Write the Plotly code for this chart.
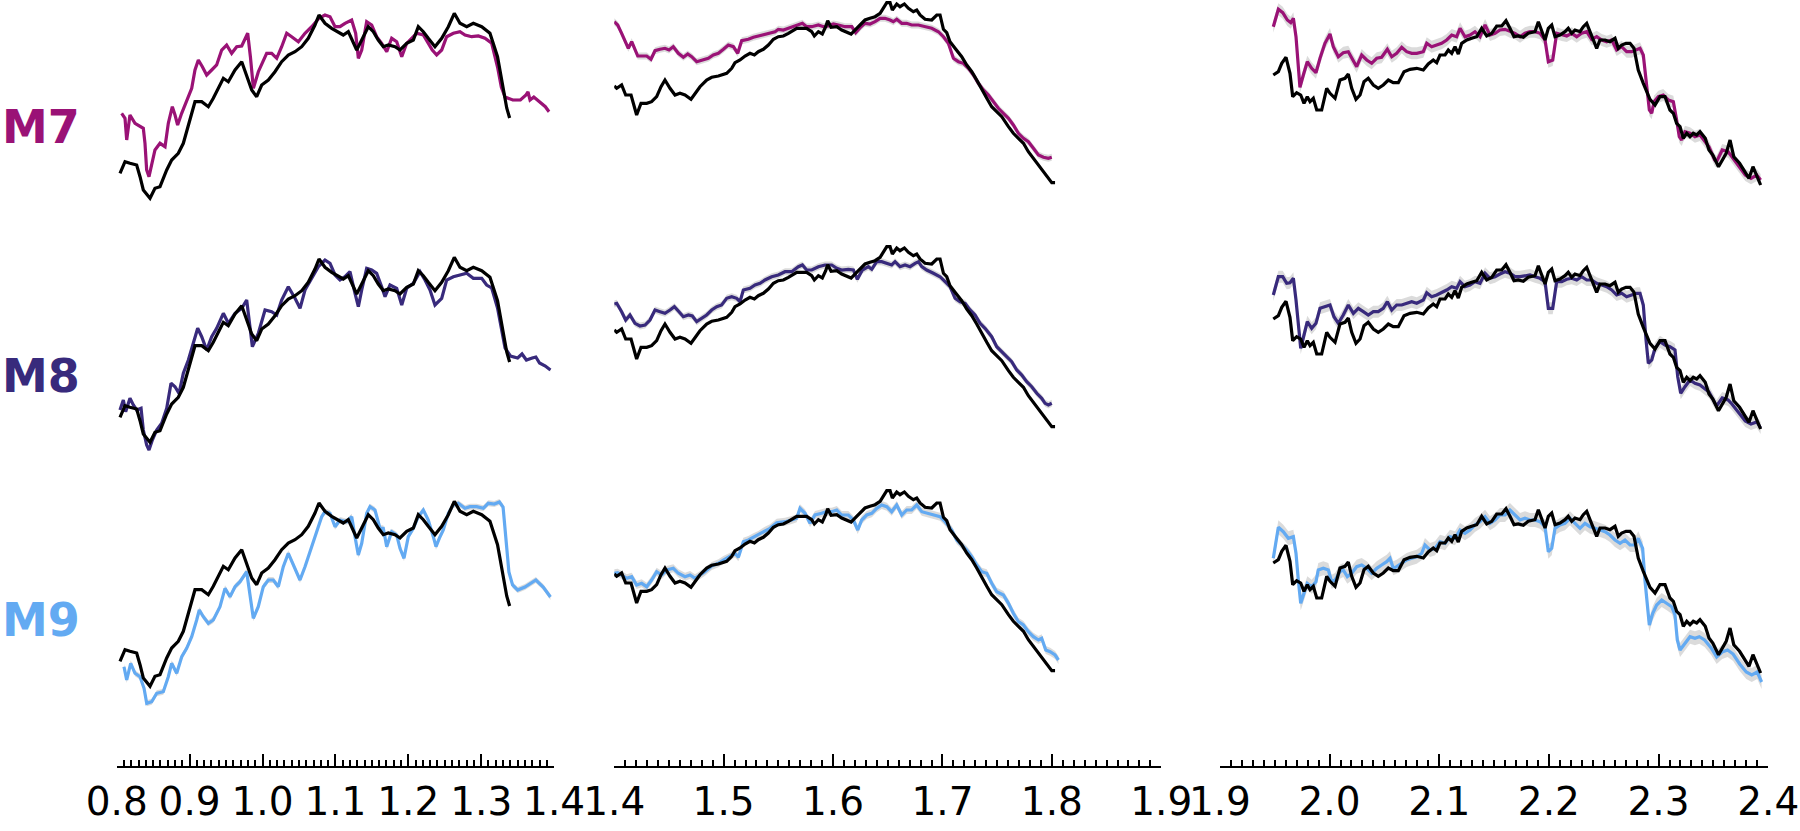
import plotly.graph_objects as go

# Observed spectrum (black) and three model fits per wavelength window.
# Flux values are in relative units, one row band per model.

# ---------------- window 1 : 0.8 - 1.4 um ----------------
obs1_wl = [0.8045, 0.8114, 0.8182, 0.8274, 0.832, 0.8365, 0.8457, 0.8525, 0.8594, 0.8686, 0.8754, 0.8845,
           0.8914, 0.9005, 0.9074, 0.9166, 0.9257, 0.9325, 0.9394, 0.9463, 0.9531, 0.9623, 0.9715, 0.9783,
           0.9852, 0.992, 0.9989, 1.008, 1.0171, 1.0263, 1.0354, 1.0446, 1.0538, 1.0628, 1.072, 1.0775,
           1.0857, 1.0949, 1.104, 1.1108, 1.1177, 1.1246, 1.1292, 1.1361, 1.1451, 1.152, 1.1588, 1.1657,
           1.1726, 1.1818, 1.1886, 1.1978, 1.2069, 1.2137, 1.2206, 1.2274, 1.2366, 1.2458, 1.2549, 1.2631,
           1.2709, 1.2801, 1.2892, 1.3007, 1.312, 1.3224, 1.3302, 1.335, 1.339]
obs1 = [70.7, 82.3, 80.7, 79, 67.3, 54, 45.7, 55.7, 57.3, 74, 84, 90.7,
        100.7, 124, 142.3, 142.3, 137.3, 145.7, 155.7, 165.7, 162.3, 174, 182.3, 169,
        154, 147.3, 159, 164, 172.3, 182.3, 189, 192.3, 197.3, 205.7, 219, 229,
        220.7, 215.7, 212.3, 209, 212.3, 200.7, 194, 204, 217.3, 212.3, 204, 197.3,
        199, 197.3, 194, 200.7, 204, 217.3, 212.3, 205.7, 197.3, 205.7, 217.3, 230.7,
        220.7, 217.3, 220.7, 217.3, 210.7, 187.3, 157, 136, 126]

m7_1_wl = [0.8068, 0.8114, 0.8137, 0.8182, 0.8251, 0.832, 0.8365, 0.8388, 0.8411, 0.8443, 0.8479, 0.8525,
           0.8594, 0.8663, 0.8708, 0.8763, 0.88, 0.8836, 0.8891, 0.896, 0.9029, 0.9074, 0.912, 0.9175,
           0.9234, 0.9303, 0.9371, 0.944, 0.9508, 0.9577, 0.9646, 0.9715, 0.976, 0.9797, 0.9834, 0.9875,
           0.9943, 1.0012, 1.0057, 1.0126, 1.0195, 1.0263, 1.0332, 1.04, 1.0492, 1.0583, 1.0675, 1.0775,
           1.0857, 1.0926, 1.0995, 1.1063, 1.1132, 1.1223, 1.1278, 1.1315, 1.1361, 1.1429, 1.1498, 1.1566,
           1.1635, 1.1704, 1.1772, 1.1841, 1.191, 1.1978, 1.2047, 1.2115, 1.2206, 1.2274, 1.2329, 1.2389,
           1.2458, 1.2526, 1.2618, 1.2709, 1.2778, 1.2869, 1.2961, 1.3052, 1.3144, 1.3224, 1.3276, 1.3327,
           1.3433, 1.3538, 1.3615, 1.3642, 1.367, 1.3722, 1.3801, 1.388, 1.393]
m7_1 = [130.7, 125.7, 104, 129, 120.7, 118, 115.7, 100.7, 74, 67.3, 80.7, 94,
        100.7, 97.3, 120.7, 137.3, 129, 119, 130.7, 144, 155.7, 174, 184, 177.3,
        169, 174, 179, 194, 199, 190.7, 197.3, 198, 205.7, 210.7, 187.3, 155.7,
        172.3, 184, 190.7, 190.7, 185.7, 197.3, 210.7, 207.3, 202.3, 210.7, 217.3, 225.7,
        229, 227.3, 217.3, 217.3, 220.7, 224, 210.7, 185.7, 194, 222.3, 219, 207.3,
        200.7, 192.3, 205.7, 202.3, 187.3, 200.7, 205.7, 210.7, 209, 200.7, 194, 189,
        194, 207.3, 210.7, 212.3, 209, 207.3, 208, 205.7, 200.7, 177, 157, 147,
        144, 144, 149, 152, 144, 147, 142.3, 137.3, 132.3]

m8_1_wl = [0.8045, 0.8091, 0.8123, 0.8182, 0.8228, 0.8274, 0.8334, 0.8365, 0.8411, 0.8443, 0.8489, 0.8548,
           0.8617, 0.8686, 0.8745, 0.88, 0.8855, 0.8914, 0.8983, 0.9051, 0.9111, 0.9166, 0.9234, 0.9303,
           0.9371, 0.9463, 0.9531, 0.9623, 0.9715, 0.9783, 0.9829, 0.9861, 0.9943, 1.0035, 1.0126, 1.0195,
           1.0263, 1.0354, 1.0446, 1.0515, 1.0583, 1.0675, 1.0766, 1.0857, 1.0926, 1.0995, 1.1063, 1.1132,
           1.12, 1.1269, 1.1315, 1.1361, 1.1429, 1.1498, 1.1566, 1.1635, 1.1681, 1.1749, 1.1841, 1.191,
           1.1978, 1.2069, 1.2161, 1.2229, 1.2298, 1.2366, 1.2458, 1.2526, 1.2618, 1.2709, 1.2801, 1.2892,
           1.3007, 1.3075, 1.3144, 1.3224, 1.3276, 1.3327, 1.34, 1.35, 1.356, 1.362, 1.37, 1.375,
           1.38, 1.388, 1.395]
m8_1 = [78, 88, 76.3, 89.7, 83, 78, 79.7, 58, 43, 38, 48, 58,
        64.7, 79.7, 104.7, 101.3, 94.7, 114.7, 128, 144.7, 159.7, 151.3, 138, 151.3,
        159.7, 174.7, 164.7, 174.7, 179.7, 188, 161.3, 141.3, 154.7, 178, 176.3, 173,
        188, 201.3, 189.7, 179.7, 198, 209.7, 221.3, 228, 224.7, 213, 208, 211.3,
        216.3, 194.7, 181.3, 198, 219.7, 218, 214.7, 201.3, 191.3, 203, 199.7, 183,
        199.7, 204.7, 216.3, 208, 198, 183, 189.7, 208, 211.3, 213, 214.7, 209.7,
        209.7, 203, 200, 180, 160, 140, 132, 130, 134, 128, 130, 131,
        125, 122, 118]

m9_1_wl = [0.81, 0.8137, 0.8192, 0.8251, 0.832, 0.8375, 0.8412, 0.848, 0.8549, 0.8639, 0.8708, 0.8754,
           0.8823, 0.8892, 0.896, 0.9029, 0.9097, 0.9133, 0.9188, 0.9257, 0.9325, 0.9417, 0.9486, 0.9554,
           0.9623, 0.9692, 0.9783, 0.9829, 0.9874, 0.9942, 1.0011, 1.008, 1.0148, 1.0217, 1.0285, 1.0354,
           1.0422, 1.0514, 1.0583, 1.0675, 1.0743, 1.0812, 1.0857, 1.0926, 1.0995, 1.1063, 1.1155, 1.1224,
           1.1269, 1.1314, 1.1361, 1.1429, 1.1475, 1.1543, 1.1612, 1.1657, 1.1704, 1.1772, 1.1841, 1.1886,
           1.1941, 1.2, 1.2069, 1.2137, 1.2206, 1.2274, 1.2343, 1.238, 1.2425, 1.248, 1.2549, 1.2617,
           1.2686, 1.2778, 1.2846, 1.2938, 1.3029, 1.3097, 1.318, 1.325, 1.33, 1.3335, 1.338, 1.343,
           1.35, 1.36, 1.37, 1.375, 1.385, 1.395]
m9_1 = [65.3, 52, 68.7, 58.7, 55.3, 43.7, 28.7, 30.3, 38.7, 40.3, 55.3, 68.7,
        58.7, 75.3, 83.7, 95.3, 112, 122, 115.3, 108.7, 112, 125.3, 143.7, 135.3,
        145.3, 150.3, 160.3, 138.7, 113.7, 125.3, 145.3, 152, 152, 145.3, 165.3, 178.7,
        167, 152, 165.3, 185.3, 198.7, 215.3, 220.3, 218.7, 205.3, 212, 210.3, 215.3,
        195.3, 177, 188.7, 218.7, 225.3, 222, 203.7, 203.7, 185.3, 200.3, 197, 183.7,
        173.7, 195.3, 203.7, 215.3, 222, 212, 195.3, 185.3, 193.7, 202, 218.7, 227,
        228.7, 223.7, 225.3, 225.3, 223.7, 228.7, 228, 230, 225, 195, 160, 147,
        142, 145, 150, 152, 145, 135]

# ---------------- window 2 : 1.4 - 1.9 um ----------------
obs2_wl = [1.4, 1.4023, 1.4068, 1.4105, 1.4154, 1.4205, 1.4245, 1.4297, 1.4342, 1.4388, 1.4428, 1.4464,
           1.451, 1.4556, 1.4601, 1.4647, 1.4702, 1.4739, 1.4784, 1.4845, 1.4891, 1.4952, 1.5028, 1.5074,
           1.5104, 1.515, 1.5196, 1.5241, 1.5281, 1.5317, 1.5363, 1.5409, 1.5455, 1.55, 1.5546, 1.5592,
           1.5637, 1.5668, 1.5714, 1.5759, 1.5805, 1.5829, 1.5866, 1.5902, 1.5933, 1.5951, 1.5982, 1.6034,
           1.6079, 1.6125, 1.6165, 1.6216, 1.6256, 1.6292, 1.6338, 1.6384, 1.643, 1.646, 1.6491, 1.6521,
           1.6542, 1.6582, 1.6612, 1.6652, 1.6689, 1.6734, 1.6765, 1.6795, 1.6841, 1.6902, 1.6948, 1.6978,
           1.7009, 1.7039, 1.7069, 1.7115, 1.7176, 1.7222, 1.7268, 1.7313, 1.7359, 1.7405, 1.745, 1.7496,
           1.7542, 1.7603, 1.7648, 1.7694, 1.774, 1.7785, 1.7831, 1.7877, 1.7923, 1.7968, 1.7999, 1.8029]
obs2 = [158, 155.7, 159, 149, 149, 129, 140.7, 140.7, 142.3, 147.3, 157.3, 164,
        155.7, 149, 150.7, 149, 144.7, 150.7, 157.3, 164, 166.7, 168, 170.7, 175.7,
        181.3, 184, 188, 190.7, 189, 192.3, 194.7, 199, 204.7, 207.3, 208, 210.7,
        213.3, 215.7, 215.7, 215.7, 212.3, 208, 212.3, 210, 217.3, 223.3, 216.7, 217.3,
        214, 212.3, 210, 215.7, 220.7, 224, 225.7, 227.3, 230.7, 235.7, 241.3, 241.3,
        234, 240, 237.3, 240, 235.7, 232.3, 234, 229, 224.7, 224, 229, 229,
        214.7, 211.3, 202.3, 195.7, 187.3, 179, 172.3, 164, 154, 145.7, 137.3, 132.3,
        127.3, 117.3, 110.7, 105.7, 100.7, 92.3, 85.7, 79, 72.3, 65.7, 61.3, 61.3]

m7_2_wl = [1.4, 1.4032, 1.4068, 1.4105, 1.4129, 1.416, 1.419, 1.4215, 1.4266, 1.4297, 1.4336, 1.4373,
           1.4419, 1.4464, 1.4501, 1.454, 1.4586, 1.4632, 1.4672, 1.4708, 1.4754, 1.48, 1.486, 1.4906,
           1.4952, 1.4998, 1.5043, 1.5089, 1.5129, 1.5165, 1.5226, 1.5272, 1.5317, 1.5378, 1.5424, 1.547,
           1.55, 1.5546, 1.5592, 1.5637, 1.5683, 1.572, 1.5759, 1.5805, 1.5866, 1.5912, 1.5957, 1.6003,
           1.6049, 1.611, 1.6171, 1.6207, 1.6256, 1.6292, 1.6338, 1.6384, 1.643, 1.6475, 1.6521, 1.6551,
           1.6582, 1.6628, 1.6673, 1.6719, 1.678, 1.6841, 1.6902, 1.6963, 1.7009, 1.7054, 1.71, 1.7146,
           1.7191, 1.7237, 1.7283, 1.7328, 1.7374, 1.742, 1.7466, 1.7511, 1.7557, 1.7603, 1.7648, 1.7694,
           1.774, 1.7785, 1.7831, 1.7877, 1.7923, 1.7968, 1.7999]
m7_2 = [222.3, 219, 210.7, 202.3, 195.7, 202.3, 194, 188, 188, 188, 184.7, 193.3,
        194.7, 195.7, 194, 197.3, 190.7, 186.7, 190, 187.3, 182.3, 184, 185.7, 189,
        190.7, 194.7, 199, 197.3, 190.7, 203.3, 204.7, 206.7, 208, 210, 210.7, 212.3,
        214.7, 214, 215.7, 217.3, 219, 220.7, 217.3, 217.3, 219, 217.3, 218, 220,
        219, 217.3, 217.3, 211.3, 217.3, 220.7, 220, 222.3, 225.7, 225.7, 224, 222.3,
        224.7, 220.7, 220.7, 219, 219, 217.3, 215.7, 212.3, 207.3, 200.7, 185.7, 182.3,
        180.7, 175.7, 169, 160.7, 154, 149, 142.3, 135.7, 130.7, 125.7, 119, 110.7,
        105.7, 102.3, 95.7, 89, 86.7, 85.7, 86.7]

m8_2_wl = [1.4, 1.4023, 1.4068, 1.4105, 1.4144, 1.419, 1.4236, 1.4282, 1.4327, 1.4373, 1.4419, 1.4464,
           1.451, 1.455, 1.4592, 1.4632, 1.4678, 1.4714, 1.4754, 1.48, 1.4845, 1.4891, 1.4937, 1.4982,
           1.5028, 1.5074, 1.5119, 1.515, 1.518, 1.5241, 1.5287, 1.5333, 1.5378, 1.5439, 1.55, 1.5561,
           1.5622, 1.5683, 1.572, 1.5759, 1.5805, 1.5866, 1.5927, 1.5988, 1.6034, 1.6079, 1.614, 1.6186,
           1.6222, 1.6268, 1.6323, 1.6354, 1.6399, 1.6445, 1.6491, 1.6536, 1.6567, 1.6612, 1.6658, 1.6704,
           1.675, 1.678, 1.6811, 1.6856, 1.6917, 1.6978, 1.7024, 1.7069, 1.7115, 1.7161, 1.7207, 1.7252,
           1.7298, 1.7344, 1.7389, 1.745, 1.7496, 1.7542, 1.7587, 1.7633, 1.7679, 1.7725, 1.777, 1.7816,
           1.7862, 1.7907, 1.7938, 1.7968, 1.7999]
m8_2 = [184, 184.7, 176.3, 168, 173, 164.7, 162, 163, 168, 178, 176.3, 174.7,
        178, 181.3, 176.3, 171.3, 173, 172, 166.3, 169.7, 173, 178, 181.3, 183,
        189.7, 191.3, 189.7, 186.3, 198, 199.7, 203, 204.7, 208, 211.3, 213, 216.3,
        216.3, 221.3, 223, 218, 218, 221.3, 223, 223, 219.7, 218, 218.7, 218,
        208.7, 218, 221.3, 218.7, 226.3, 226.3, 224.7, 223, 226.3, 221.3, 223, 221.3,
        224.7, 226.3, 221.3, 218, 214.7, 211.3, 206.3, 201.3, 189.7, 186.3, 184.7, 178,
        173, 164.7, 159.7, 151.3, 141.3, 136.3, 131.3, 126.3, 118, 113, 106.3, 101.3,
        94.7, 89.7, 84.7, 83, 84.7]

m9_2_wl = [1.4, 1.4032, 1.4068, 1.4114, 1.416, 1.4205, 1.4251, 1.4297, 1.4342, 1.4388, 1.4434, 1.448,
           1.454, 1.4586, 1.4647, 1.4693, 1.4739, 1.4784, 1.483, 1.4891, 1.4952, 1.4998, 1.5058, 1.5104,
           1.5135, 1.518, 1.5226, 1.5272, 1.5317, 1.5378, 1.5424, 1.5485, 1.5561, 1.5622, 1.5668, 1.5698,
           1.5744, 1.579, 1.5835, 1.5896, 1.5942, 1.5988, 1.6034, 1.6079, 1.614, 1.6186, 1.6226, 1.6262,
           1.6308, 1.6354, 1.6399, 1.6445, 1.6491, 1.6536, 1.6582, 1.6628, 1.6673, 1.6719, 1.6765, 1.6811,
           1.6871, 1.6932, 1.6978, 1.7024, 1.7085, 1.713, 1.7176, 1.7222, 1.7268, 1.7313, 1.7359, 1.7405,
           1.745, 1.7496, 1.7557, 1.7603, 1.7648, 1.7694, 1.774, 1.7785, 1.7831, 1.7877, 1.7907, 1.7944,
           1.7984, 1.8029, 1.806]
m9_2 = [158.7, 159.3, 157, 153.7, 155.3, 147, 148.7, 145.3, 152, 160.3, 157, 162,
        163.7, 158.7, 155.3, 157, 153.7, 157, 160.3, 166, 168.7, 172, 175.3, 178.7,
        174.7, 190.3, 192, 194.7, 197, 201.3, 203.7, 209.3, 210.3, 212, 213.7, 223.7,
        218.7, 208.7, 217, 218.7, 220.3, 220.3, 222, 217, 217, 212, 202, 212,
        217, 218.7, 223.7, 227, 225.3, 220.3, 227, 217, 222, 222, 227, 220.3,
        218.7, 217, 215.3, 210.3, 202, 192, 187, 182, 175.3, 167, 160.3, 158.7,
        148.7, 140.3, 137, 128.7, 118.7, 110.3, 107, 100.3, 95.3, 92, 93.7, 82,
        80.3, 77, 72]

# ---------------- window 3 : 1.9 - 2.4 um ----------------
obs3_wl = [1.9487, 1.9533, 1.9564, 1.9603, 1.9639, 1.9664, 1.97, 1.9737, 1.9767, 1.9797, 1.9822, 1.9852,
           1.9883, 1.9928, 1.9974, 2.0004, 2.005, 2.0095, 2.0141, 2.0171, 2.0202, 2.0241, 2.0278, 2.0314,
           2.0353, 2.0399, 2.0444, 2.049, 2.0536, 2.0581, 2.0627, 2.0679, 2.0734, 2.0795, 2.0855, 2.09,
           2.0946, 2.0977, 2.1007, 2.1053, 2.1083, 2.1114, 2.1144, 2.1174, 2.1205, 2.1251, 2.1296, 2.1342,
           2.1387, 2.1433, 2.1479, 2.1524, 2.157, 2.1609, 2.1645, 2.1682, 2.1721, 2.1767, 2.1812, 2.1873,
           2.1904, 2.1934, 2.1965, 2.1995, 2.2026, 2.2056, 2.2101, 2.2147, 2.2177, 2.2208, 2.2238, 2.2284,
           2.2314, 2.2345, 2.239, 2.2436, 2.2466, 2.2512, 2.2557, 2.2603, 2.2633, 2.2664, 2.2703, 2.274,
           2.2776, 2.2815, 2.2861, 2.2892, 2.2922, 2.2968, 2.3013, 2.3059, 2.3104, 2.3135, 2.3165, 2.3196,
           2.3226, 2.3257, 2.3287, 2.3317, 2.3348, 2.3378, 2.3426, 2.346, 2.3495, 2.3547, 2.3581, 2.3617,
           2.3652, 2.3686, 2.3739, 2.3791, 2.3825, 2.3861, 2.3896, 2.3931]
obs3 = [169, 172.3, 180.7, 186.7, 170.7, 147.3, 151.3, 149, 140.7, 147.3, 142.3, 145.7,
        134, 134, 155.7, 150.7, 145.7, 164, 165.7, 170, 155.7, 144.7, 149, 162.3,
        165.7, 159, 155.7, 159, 164, 161.3, 161.3, 172.3, 174.7, 175.7, 174, 180,
        184, 181.3, 189, 189, 194, 190.7, 197.3, 190, 200.7, 204, 205.7, 207.3,
        215.7, 208, 210.7, 218, 218, 223.3, 215.7, 207.3, 208, 206.7, 210.7, 212.3,
        222.3, 212.3, 204, 215.7, 219, 207.3, 209, 212.3, 215.7, 210.7, 214, 212.3,
        217.3, 220.7, 207.3, 195.7, 204, 204, 202.3, 205.7, 195.7, 199, 200.7, 200.7,
        195.7, 174, 160.7, 152.3, 144.7, 139, 147.3, 147.3, 134, 130.7, 120.7, 117.3,
        105.7, 110.7, 107.3, 110.7, 109, 112.3, 105.7, 94, 89, 77.3, 84, 90.7,
        104, 87.3, 80.7, 70.7, 65.7, 77.3, 67.3, 59]

m7_3_wl = [1.9487, 1.9533, 1.9573, 1.9615, 1.9646, 1.967, 1.9694, 1.9715, 1.973, 1.9761, 1.9797, 1.9837,
           1.9876, 1.9913, 1.9958, 2.0004, 2.0034, 2.008, 2.0125, 2.0171, 2.0217, 2.0247, 2.0293, 2.0339,
           2.0384, 2.043, 2.0475, 2.0527, 2.0567, 2.0612, 2.0658, 2.0703, 2.0749, 2.0795, 2.0855, 2.0886,
           2.0931, 2.0977, 2.1022, 2.1068, 2.1114, 2.1159, 2.119, 2.1235, 2.1281, 2.1326, 2.1372, 2.1418,
           2.1463, 2.1509, 2.1554, 2.16, 2.1645, 2.1691, 2.1737, 2.1782, 2.1828, 2.1873, 2.1919, 2.1965,
           2.1995, 2.2035, 2.2071, 2.2117, 2.2163, 2.2208, 2.2254, 2.2299, 2.2345, 2.239, 2.2436, 2.2482,
           2.2527, 2.2573, 2.2618, 2.2664, 2.2709, 2.2755, 2.2801, 2.2831, 2.2861, 2.2886, 2.2916, 2.2938,
           2.2959, 2.2998, 2.3043, 2.3089, 2.3135, 2.3165, 2.3189, 2.3211, 2.3241, 2.3287, 2.3332, 2.3378,
           2.346, 2.3512, 2.3529, 2.3581, 2.3634, 2.3669, 2.3739, 2.3791, 2.3843, 2.3896, 2.3931]
m7_3 = [217.3, 234.7, 231.3, 224, 221.3, 225.7, 207.3, 180.7, 156.7, 169, 182.3, 175.7,
        171.3, 185.7, 200.7, 210, 197.3, 187.3, 191.3, 192.3, 184, 177.3, 189, 184,
        180.7, 185.7, 186.7, 194.7, 187.3, 190.7, 196.7, 192.3, 190.7, 190.7, 192.3, 200.7,
        197.3, 199, 200.7, 204, 209, 207.3, 215.7, 207.3, 209, 212.3, 207.3, 219,
        209, 210.7, 214, 214.7, 212.3, 210.7, 207.3, 210.7, 212.3, 212.3, 210.7, 204,
        182.3, 184, 210.7, 209, 208, 210.7, 207.3, 210.7, 212.3, 204.7, 207.3, 204,
        202.3, 204, 194, 197.3, 192.3, 192.3, 194, 195.7, 189, 160.7, 134, 130.7,
        142.3, 147.3, 149, 144, 142.3, 124, 107.3, 104, 112.3, 110.7, 107.3, 109,
        97.3, 84, 82.3, 94, 92.3, 87.3, 77.3, 69, 65.7, 69, 64]

m8_3_wl = [1.9487, 1.9533, 1.9573, 1.9609, 1.9639, 1.967, 1.9694, 1.9715, 1.9737, 1.9767, 1.9797, 1.9837,
           1.9876, 1.9913, 1.9958, 2.0004, 2.004, 2.008, 2.0125, 2.0171, 2.0217, 2.0262, 2.0308, 2.0353,
           2.0399, 2.0444, 2.049, 2.0527, 2.0567, 2.0612, 2.0658, 2.0703, 2.0749, 2.0795, 2.0855, 2.0886,
           2.0931, 2.0977, 2.1022, 2.1068, 2.1114, 2.1159, 2.119, 2.1235, 2.1281, 2.1326, 2.1372, 2.1418,
           2.1463, 2.1509, 2.1554, 2.16, 2.1645, 2.1691, 2.1737, 2.1782, 2.1828, 2.1873, 2.1919, 2.1965,
           2.1995, 2.2035, 2.2071, 2.2117, 2.2163, 2.2208, 2.2254, 2.2299, 2.2345, 2.239, 2.2436, 2.2482,
           2.2527, 2.2573, 2.2618, 2.2664, 2.2709, 2.2755, 2.2801, 2.2831, 2.2861, 2.2886, 2.2907, 2.2938,
           2.2968, 2.3013, 2.3059, 2.3104, 2.315, 2.3175, 2.3202, 2.3241, 2.3287, 2.3332, 2.3378, 2.346,
           2.3512, 2.3529, 2.3581, 2.3634, 2.3669, 2.3739, 2.3791, 2.3843, 2.3896, 2.3931]
m8_3 = [193, 211.3, 211.3, 204.7, 205.3, 209.7, 188, 161.3, 139.7, 153, 166.3, 159.7,
        164.7, 179.7, 181.3, 183, 171.3, 164.7, 173, 183, 174.7, 179.7, 176.3, 173,
        176.3, 176.3, 179.7, 186.3, 178, 183, 183, 184.7, 186.3, 184.7, 188, 195.3,
        191.3, 193, 195.3, 198, 201.3, 199.7, 206.3, 201.3, 203, 206.3, 204.7, 214.7,
        209.7, 211.3, 214, 216.3, 214.7, 211.3, 211.3, 212, 213, 211.3, 209.7, 206.3,
        179.7, 179.7, 206.3, 206.3, 208.7, 209.7, 208, 211.3, 208, 208, 204.7, 203,
        201.3, 198, 193, 194.7, 191.3, 193, 194.7, 194.7, 183, 148, 124.7, 128,
        139.7, 146.3, 143, 141.3, 138, 111.3, 94.7, 101.3, 108, 104.7, 103, 96,
        85, 82, 90, 88, 84, 74, 67, 64, 66, 60]

m9_3_wl = [1.9487, 1.9533, 1.9578, 1.9624, 1.967, 1.9694, 1.9715, 1.9737, 1.9767, 1.9797, 1.9837, 1.9876,
           1.9897, 1.9943, 1.9989, 2.0019, 2.005, 2.0095, 2.0125, 2.0162, 2.0202, 2.0247, 2.0293, 2.0339,
           2.0384, 2.043, 2.0475, 2.0521, 2.0551, 2.0581, 2.0612, 2.0658, 2.0703, 2.0749, 2.0795, 2.084,
           2.087, 2.0916, 2.0962, 2.1007, 2.1053, 2.1098, 2.1144, 2.119, 2.1235, 2.1281, 2.1326, 2.1372,
           2.1418, 2.1463, 2.1509, 2.1554, 2.16, 2.1645, 2.1691, 2.1737, 2.1782, 2.1828, 2.1873, 2.1919,
           2.1965, 2.1995, 2.2026, 2.2056, 2.2101, 2.2147, 2.2193, 2.2238, 2.2284, 2.2329, 2.2375, 2.2421,
           2.2466, 2.2512, 2.2557, 2.2603, 2.2649, 2.2694, 2.274, 2.2786, 2.2815, 2.2855, 2.2876, 2.2898,
           2.2916, 2.2947, 2.2983, 2.3029, 2.3075, 2.312, 2.315, 2.3171, 2.3196, 2.3241, 2.3287, 2.3332,
           2.3372, 2.342, 2.348, 2.353, 2.358, 2.363, 2.368, 2.374, 2.38, 2.385, 2.39, 2.394]
m9_3 = [173.7, 204.7, 200.3, 193.7, 195.3, 178.7, 152, 128.7, 138.7, 148.7, 145.3, 150.3,
        162, 163.7, 162, 150.3, 152, 160.3, 162, 155.3, 158.7, 165.3, 167, 163.7,
        158.7, 163.7, 167, 170.3, 173.7, 163.7, 165.3, 168.7, 172, 173.7, 175.3, 178.7,
        187, 182, 183.7, 190.3, 188.7, 195.3, 193.7, 202, 198.7, 202, 207, 210.3,
        215.3, 208.7, 212, 217, 217, 222, 217, 212, 213.7, 212, 212, 210.3,
        205.3, 180.3, 183.7, 203.7, 207, 208.7, 213.7, 208.7, 203.7, 208.7, 205.3, 203.7,
        202, 200.3, 197, 192, 188.7, 192, 187, 187, 193.7, 183.7, 152, 122,
        107, 118.7, 127, 132, 128.7, 125.3, 117, 92, 82, 88.7, 95.3, 93.7,
        95.3, 92, 84, 75, 80, 82, 78, 68, 60, 57, 60, 50]

# half-width of the grey uncertainty band, [row][window]
band_hw = [[1.5, 3.5, 6],
           [1.5, 3.5, 6],
           [3, 4, 7]]

models = ['M7', 'M8', 'M9']
model_colors = ['#9a1276', '#382a7c', '#63aaf2']
windows = [
    dict(obs_wl=obs1_wl, obs=obs1, rng=[0.8, 1.4],
         fits=[(m7_1_wl, m7_1), (m8_1_wl, m8_1), (m9_1_wl, m9_1)]),
    dict(obs_wl=obs2_wl, obs=obs2, rng=[1.4, 1.9],
         fits=[(m7_2_wl, m7_2), (m8_2_wl, m8_2), (m9_2_wl, m9_2)]),
    dict(obs_wl=obs3_wl, obs=obs3, rng=[1.9, 2.4],
         fits=[(m7_3_wl, m7_3), (m8_3_wl, m8_3), (m9_3_wl, m9_3)]),
]

# ---------------- layout geometry (pixels of the 1800 x 831 page) ----------------
W, H = 1800, 831
AXIS_Y = 767            # x-axis line position
ROW_PX = 244            # height of one model band
col_px = [(116.7, 554.1), (614.2, 1161.3), (1219.9, 1768.2)]
label_y_px = [127, 376, 620]

fig = go.Figure()
layout = dict(
    width=W, height=H,
    margin=dict(l=0, r=0, t=0, b=H - AXIS_Y, autoexpand=False),
    plot_bgcolor='white', paper_bgcolor='white',
    showlegend=False,
    font=dict(family='DejaVu Sans', color='black'),
)

for c, win in enumerate(windows):
    xname = 'x' if c == 0 else 'x%d' % (c + 1)
    xkey = 'xaxis' if c == 0 else 'xaxis%d' % (c + 1)
    lo, hi = win['rng']
    layout[xkey] = dict(
        domain=[col_px[c][0] / W, col_px[c][1] / W],
        range=[lo, hi], anchor='free', position=0, automargin=False,
        showline=True, linecolor='black', linewidth=2,
        ticks='inside', ticklen=12, tickwidth=2, tickcolor='black',
        tick0=lo, dtick=0.1, tickformat='.1f',
        tickfont=dict(family='DejaVu Sans', size=39, color='black'),
        showgrid=False, zeroline=False,
        minor=dict(dtick=0.01, tick0=lo, ticks='inside', ticklen=6,
                   tickwidth=1.5, tickcolor='black', showgrid=False),
    )
    for r in range(3):
        k = r * 3 + c + 1
        yname = 'y' if k == 1 else 'y%d' % k
        ykey = 'yaxis' if k == 1 else 'yaxis%d' % k
        top = r * ROW_PX
        layout[ykey] = dict(
            domain=[(AXIS_Y - top - ROW_PX) / AXIS_Y, (AXIS_Y - top) / AXIS_Y],
            range=[0, ROW_PX], anchor=xname, visible=False, automargin=False,
        )
        wl, flux = win['fits'][r]
        hw = band_hw[r][c]
        # uncertainty band
        fig.add_trace(go.Scatter(x=wl, y=[f + hw for f in flux], xaxis=xname, yaxis=yname,
                                 mode='lines', line=dict(width=0, color='rgba(0,0,0,0)'),
                                 hoverinfo='skip'))
        fig.add_trace(go.Scatter(x=wl, y=[f - hw for f in flux], xaxis=xname, yaxis=yname,
                                 mode='lines', line=dict(width=0, color='rgba(0,0,0,0)'),
                                 fill='tonexty', fillcolor='rgba(195,195,195,0.6)',
                                 hoverinfo='skip'))
        # model
        fig.add_trace(go.Scatter(x=wl, y=flux, xaxis=xname, yaxis=yname, mode='lines',
                                 line=dict(color=model_colors[r], width=3.2),
                                 name=models[r]))
        # observed
        fig.add_trace(go.Scatter(x=win['obs_wl'], y=win['obs'], xaxis=xname, yaxis=yname,
                                 mode='lines', line=dict(color='black', width=3.2),
                                 name='observed'))

# row labels
layout['annotations'] = [
    dict(text='<b>%s</b>' % m, xref='paper', yref='paper', x=0, xanchor='left',
         y=(AXIS_Y - label_y_px[i]) / AXIS_Y, yanchor='middle', showarrow=False,
         font=dict(family='DejaVu Sans', size=46, color=model_colors[i]))
    for i, m in enumerate(models)
]

fig.update_layout(**layout)
# drop the browser's default 8px body margin so the figure sits at the page corner
fig.write_html('out.html', config={'displayModeBar': False},
               post_script="document.body.style.margin='0';")
